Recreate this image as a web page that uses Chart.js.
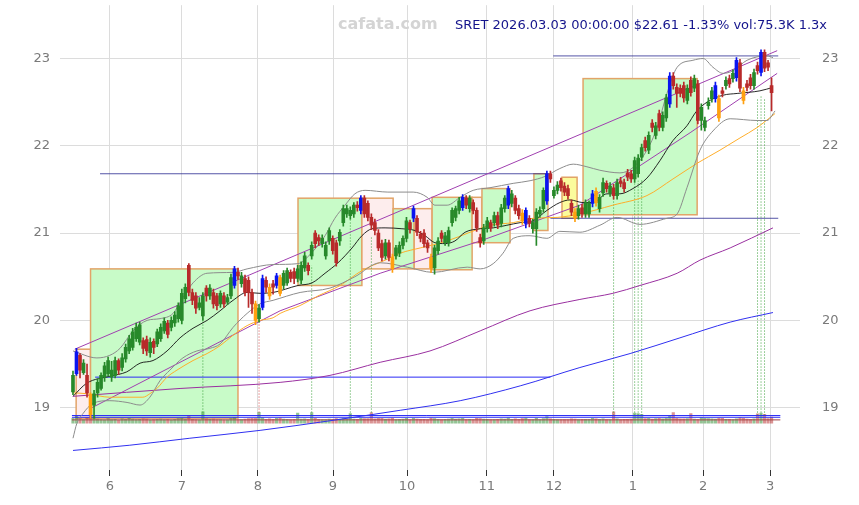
<!DOCTYPE html>
<html>
<head>
<meta charset="utf-8">
<script src="https://cdn.jsdelivr.net/npm/chart.js@4.4.1/dist/chart.umd.min.js"></script>
<style>
html, body { margin: 0; padding: 0; background: #fff; }
</style>
</head>
<body>
<canvas id="c" width="859" height="505"></canvas>
<script>
// daily candles, index 0 = first session shown
const open = [
19.18,19.39,19.60,19.40,19.37,19.15,19.03,19.17,19.22,19.35, 19.39,19.35,19.37,19.54,19.46,19.56,19.65,19.69,19.79,19.75,
19.77,19.78,19.63,19.76,19.73,19.79,19.88,19.97,19.92,19.97, 20.02,20.00,20.25,20.63,20.32,20.28,20.15,20.05,20.37,20.28,
20.32,20.28,20.19,20.28,20.21,20.28,20.40,20.55,20.42,20.48, 20.46,20.32,20.19,20.02,20.15,20.46,20.38,20.42,20.40,20.49,
20.40,20.43,20.55,20.56,20.48,20.46,20.60,20.63,20.74,21.00, 20.95,20.88,20.74,20.91,20.94,20.89,20.91,21.12,21.22,21.20,
21.22,21.32,21.26,21.40,21.34,21.18,21.12,21.00,20.88,20.74, 20.89,20.72,20.74,20.77,20.86,20.94,21.12,21.17,21.17,20.99,
21.00,20.89,20.72,20.60,20.80,21.00,20.89,20.89,21.12,21.18, 21.26,21.29,21.40,21.28,21.35,21.26,20.95,20.91,21.05,21.12,
21.12,21.20,21.11,21.28,21.32,21.34,21.40,21.28,21.23,21.11, 21.17,21.05,21.05,21.22,21.28,21.37,21.68,21.43,21.49,21.60,
21.54,21.51,21.34,21.24,21.20,21.29,21.22,21.22,21.34,21.48, 21.28,21.46,21.57,21.46,21.52,21.43,21.60,21.58,21.69,21.68,
21.62,21.68,21.87,22.06,21.95,22.26,22.12,22.37,22.21,22.32, 22.48,22.80,22.67,22.66,22.69,22.52,22.75,22.66,22.71,22.29,
22.21,22.46,22.54,22.54,22.54,22.63,22.69,22.77,22.77,22.78, 22.95,22.63,22.71,22.78,22.69,22.92,22.84,23.07,22.95,22.69
];
const high = [
19.42,19.68,19.62,19.55,19.50,19.17,19.20,19.33,19.40,19.52, 19.58,19.53,19.58,19.56,19.62,19.73,19.83,19.91,19.97,19.98,
19.80,19.82,19.80,19.79,19.90,19.96,20.03,20.00,20.04,20.10, 20.20,20.36,20.42,20.65,20.36,20.32,20.26,20.32,20.40,20.41,
20.36,20.31,20.34,20.32,20.30,20.53,20.62,20.60,20.55,20.52, 20.50,20.36,20.22,20.18,20.52,20.50,20.42,20.46,20.54,20.52,
20.57,20.60,20.58,20.60,20.63,20.67,20.78,20.66,20.90,21.03, 20.98,20.98,20.90,21.06,20.97,20.92,21.04,21.32,21.32,21.30,
21.35,21.36,21.43,21.43,21.37,21.22,21.16,21.04,20.92,20.93, 20.92,20.76,20.86,20.90,20.97,21.18,21.15,21.31,21.20,21.02,
21.04,20.92,20.76,20.86,20.95,21.03,21.01,21.07,21.29,21.31, 21.41,21.44,21.43,21.43,21.38,21.29,20.99,21.10,21.18,21.15,
21.24,21.24,21.33,21.43,21.54,21.49,21.43,21.32,21.27,21.29, 21.20,21.16,21.28,21.30,21.52,21.71,21.71,21.53,21.59,21.63,
21.58,21.55,21.38,21.28,21.32,21.33,21.38,21.37,21.49,21.52, 21.44,21.63,21.60,21.58,21.56,21.62,21.64,21.62,21.73,21.72,
21.87,21.90,22.02,22.10,22.16,22.30,22.27,22.41,22.39,22.59, 22.84,22.84,22.71,22.70,22.73,22.70,22.79,22.81,22.75,22.48,
22.33,22.55,22.67,22.73,22.58,22.67,22.79,22.81,22.87,23.01, 22.99,22.67,22.75,22.82,22.88,22.96,23.10,23.10,22.98,22.78
];
const low = [
19.15,19.37,19.34,19.38,19.12,18.88,18.88,19.12,19.20,19.30, 19.36,19.30,19.34,19.38,19.42,19.52,19.62,19.66,19.76,19.72,
19.62,19.60,19.58,19.62,19.70,19.76,19.85,19.80,19.88,19.93, 19.98,19.96,20.20,20.28,20.18,20.08,20.12,20.00,20.22,20.24,
20.14,20.12,20.15,20.15,20.18,20.25,20.37,20.47,20.38,20.28, 20.15,20.08,19.95,19.98,20.12,20.32,20.24,20.30,20.37,20.28,
20.36,20.40,20.44,20.42,20.44,20.42,20.56,20.52,20.70,20.83, 20.86,20.84,20.70,20.87,20.76,20.62,20.86,21.08,21.18,21.16,
21.18,21.25,21.22,21.18,21.14,21.04,20.98,20.80,20.68,20.70, 20.68,20.55,20.70,20.73,20.82,20.90,21.00,21.13,20.97,20.90,
20.84,20.78,20.55,20.53,20.76,20.90,20.86,20.85,21.08,21.14, 21.22,21.26,21.28,21.24,21.22,21.02,20.84,20.87,21.01,21.02,
21.08,21.05,21.07,21.24,21.28,21.30,21.22,21.16,21.10,21.06, 21.07,21.00,20.86,21.18,21.24,21.33,21.58,21.40,21.45,21.48,
21.43,21.39,21.20,21.13,21.16,21.18,21.18,21.18,21.30,21.31, 21.24,21.42,21.47,21.42,21.39,21.39,21.53,21.47,21.60,21.58,
21.58,21.64,21.83,21.94,21.91,22.16,22.08,22.17,22.17,22.28, 22.44,22.65,22.44,22.56,22.50,22.48,22.57,22.62,22.25,22.18,
22.17,22.42,22.50,22.50,22.28,22.56,22.65,22.67,22.73,22.74, 22.62,22.48,22.63,22.65,22.65,22.82,22.80,22.85,22.86,22.40
];
const close = [
19.37,19.64,19.43,19.51,19.17,18.92,19.16,19.29,19.37,19.48, 19.54,19.43,19.54,19.43,19.57,19.69,19.79,19.87,19.92,19.95,
19.68,19.65,19.75,19.69,19.87,19.92,19.99,19.84,20.00,20.06, 20.17,20.31,20.38,20.32,20.23,20.14,20.20,20.28,20.28,20.37,
20.19,20.17,20.31,20.19,20.26,20.49,20.59,20.51,20.51,20.32, 20.32,20.19,20.00,20.14,20.48,20.38,20.28,20.38,20.51,20.31,
20.54,20.57,20.48,20.48,20.59,20.63,20.74,20.57,20.86,20.88, 20.91,20.94,20.86,21.03,20.80,20.66,21.01,21.28,21.28,21.26,
21.32,21.29,21.40,21.22,21.18,21.09,21.03,20.83,20.72,20.89, 20.72,20.59,20.83,20.86,20.94,21.14,21.05,21.28,21.01,20.94,
20.88,20.83,20.60,20.83,20.91,20.94,20.97,21.03,21.26,21.28, 21.37,21.41,21.32,21.40,21.26,21.06,20.89,21.06,21.14,21.06,
21.20,21.09,21.29,21.40,21.51,21.45,21.26,21.20,21.14,21.26, 21.11,21.12,21.24,21.26,21.49,21.68,21.62,21.49,21.55,21.52,
21.47,21.43,21.24,21.17,21.28,21.22,21.35,21.34,21.45,21.35, 21.41,21.58,21.51,21.54,21.43,21.58,21.57,21.51,21.64,21.62,
21.83,21.86,21.98,21.98,22.12,22.21,22.23,22.21,22.35,22.55, 22.80,22.69,22.60,22.60,22.55,22.66,22.61,22.77,22.29,22.44,
22.29,22.50,22.63,22.69,22.32,22.60,22.75,22.71,22.83,22.98, 22.66,22.52,22.67,22.69,22.84,22.86,23.07,22.89,22.90,22.61
];
// volume in thousands
const volume = [
60,85,55,45,70,95,80,50,45,40, 55,42,48,38,52,46,58,50,44,47,
52,49,41,43,47,51,45,48,40,46, 55,62,50,90,48,44,40,140,52,47,
49,45,43,41,40,56,68,44,42,50, 55,58,60,135,70,48,52,46,60,65,
50,47,44,46,125,49,52,46,130,60, 48,45,43,50,47,55,49,58,52,120,
50,48,62,55,57,130,52,60,58,50, 52,62,45,47,49,58,44,60,50,46,
48,45,62,55,47,44,46,49,58,50, 52,60,45,47,44,58,55,50,46,43,
45,47,53,50,64,48,52,46,55,62, 44,43,60,45,57,80,52,46,44,45,
43,44,52,50,45,46,48,47,58,54, 46,52,44,45,140,52,45,48,46,50,
125,120,110,56,58,50,55,60,52,62, 90,130,58,54,52,56,120,50,48,70,
60,55,52,50,62,58,48,46,45,52, 70,58,49,47,52,115,125,110,55,75
];
// signal candles
const blueIdx = [1,46,54,58,82,97,111,124,129,135,148,170,183,189,196];
const orangeIdx = [5,52,56,59,91,102,128,143,149,184,191];

// month ticks (position in session index) and labels
const monthPos = [10.54, 31.05, 52.7, 74.07, 95.16, 117.9, 137.0, 159.5, 179.5, 198.6];
const monthLabels = ['6','7','8','9','10','11','12','1','2','3'];
const priceTicks = [19, 20, 21, 22, 23];

// overlay lines as [index, price]
const maFast = [[0,19.13],[3.9,19.28],[10.5,19.36],[15.3,19.41],[19.1,19.51],[22.8,19.54],[26.8,19.65],[30.5,19.80],
 [34.2,19.91],[38.2,20.00],[41.9,20.11],[45.6,20.23],[49.6,20.32],[53.3,20.31],[57,20.32],[64.1,20.40],[68.1,20.43],
 [71.8,20.54],[75.5,20.66],[79.5,20.83],[82.3,20.97],[85.2,21.05],[88.9,21.06],[93.7,21.05],[97.4,21.03],[100.3,20.97],
 [103.1,20.89],[106,20.88],[108.8,20.91],[111.7,21.01],[116,21.05],[119.7,21.06],[123.6,21.09],[127.4,21.12],[131,21.14],
 [135,21.26],[138.7,21.35],[141.6,21.38],[145.3,21.35],[148.1,21.35],[152.1,21.45],[155.8,21.45],[159.5,21.51],
 [163.5,21.63],[167.2,21.83],[170.9,22.06],[174.9,22.23],[177.5,22.39],[180.6,22.50],[185.2,22.58],[189.2,22.60],
 [195.7,22.63],[199.4,22.67]];
const bandUpper = [[0,19.65],[6.8,19.57],[10.5,19.60],[13.4,19.68],[17.1,19.88],[21.1,20.00],[24.8,20.02],[28.5,20.08],
 [31.3,20.26],[34.2,20.43],[38.2,20.54],[45.6,20.55],[49.6,20.59],[57,20.64],[64.1,20.65],[68.1,20.78],[71.8,20.97],
 [74.6,21.17],[77.5,21.32],[80.3,21.45],[83.2,21.49],[89.7,21.47],[96.9,21.47],[100.9,21.41],[103.1,21.32],[106.6,21.32],
 [110.3,21.41],[114,21.49],[118.8,21.52],[125.4,21.57],[130.2,21.60],[134.5,21.65],[138.7,21.74],[142.5,21.79],
 [146.4,21.76],[150.1,21.72],[155.8,21.69],[159.5,21.75],[163.5,21.95],[166.4,22.21],[169.2,22.60],[172.1,22.90],
 [176.6,22.98],[179.5,23.00],[182.3,22.90],[185.2,22.83],[188,22.86],[192,22.98],[197.7,23.03],[199.4,23.01]];
const bandLower = [[0,18.65],[1.1,18.82],[2.8,18.93],[5.7,19.05],[10.5,19.08],[15.4,19.06],[19.1,19.03],[21.9,19.12],
 [24.8,19.31],[27.6,19.43],[31.3,19.57],[35.3,19.65],[39,19.68],[41.9,19.73],[45.6,19.92],[49.6,20.08],[53.3,20.19],
 [57,20.23],[64.7,20.32],[73.2,20.37],[80.3,20.50],[87.5,20.66],[95.2,20.61],[102.6,20.55],[112.3,20.61],[116,20.59],
 [119.7,20.65],[122.5,20.77],[125.4,20.94],[130.2,20.97],[135,20.94],[138.7,21.02],[144.4,21.01],[150.1,21.09],
 [155,21.18],[161.5,21.10],[169.2,21.17],[172.1,21.22],[174.9,21.52],[178.6,21.95],[182.3,22.17],[187.2,22.31],
 [194.9,22.29],[197.7,22.29],[200,22.40]];
const maMid = [[0,19.17],[4,19.16],[10.5,19.12],[15.4,19.12],[19.9,19.12],[21.9,19.16],[23.9,19.22],[26.8,19.35],
 [29.6,19.43],[34.2,19.54],[38.2,19.62],[41.9,19.71],[45.6,19.83],[49.6,19.94],[53.3,20.00],[57,20.03],[59,20.08],
 [64.7,20.17],[69.8,20.28],[76.1,20.40],[82.3,20.57],[88.9,20.69],[93.2,20.77],[98.9,20.83],[106.6,20.91],[113.1,21.01],
 [118.8,21.09],[125.4,21.12],[131.1,21.17],[137.9,21.18],[144.4,21.22],[153.8,21.32],[163.5,21.43],[170.9,21.62],
 [177.8,21.80],[184.3,21.95],[190,22.09],[194.9,22.21],[200,22.37]];
const maSlow = [[0,19.13],[30.5,19.22],[59,19.29],[73.2,19.37],[87.5,19.52],[101.7,19.65],[116,19.88],[130.2,20.11],
 [144.4,20.24],[153.8,20.31],[161.5,20.40],[172.1,20.54],[178.6,20.69],[187.2,20.83],[199.4,21.06]];
const maLong = [[0,18.51],[16.2,18.57],[33.3,18.65],[53.3,18.74],[73.2,18.85],[93.2,18.97],[110.3,19.08],[127.4,19.25],
 [144.4,19.46],[158.7,19.62],[172.9,19.80],[187.2,19.98],[199.4,20.09]];
const chanUpper = [[0.5,19.67],[200.6,23.09]];
const chanLower = [[5.4,19.00],[59,20.11],[87.5,20.54],[116,20.91],[144.4,21.32],[175.8,22.15],[200.6,22.83]];

// horizontal levels [from, to, price]
const levelsNavy = [[7.7,136,21.68],[136.8,200.9,23.03],[136,200.9,21.17]];
const levelsBlue = [[6.3,136,19.35],[-0.3,201.5,18.91],[-0.3,201.5,18.89]];
const levelsBrown = [[-0.3,201.5,18.86]];

// volume spike markers [index, top price]
const spikeUp = [[37,20.11],[68,20.63],[79,21.20],[85,20.97],[154,21.40],[160,21.58],[161,21.60],[162,21.62],[195,22.55],[196,22.57],[197,22.55]];
const spikeDown = [[53,20.02]];
const spikeBase = 18.91;

// zones [from, to, low, high, kind]
const zones = [
  [0.9, 5.0, 18.88, 19.67, 'dn'],
  [5.0, 47.0, 18.88, 20.59, 'up'],
  [64.1, 82.3, 20.40, 21.40, 'up'],
  [82.3, 91.2, 20.59, 21.40, 'dn'],
  [91.2, 97.2, 20.59, 21.28, 'up'],
  [97.2, 102.3, 20.59, 21.28, 'dn'],
  [102.3, 113.7, 20.58, 21.41, 'up'],
  [113.7, 116.5, 20.89, 21.41, 'dn'],
  [116.5, 124.5, 20.89, 21.51, 'up'],
  [131.3, 135.3, 21.03, 21.68, 'up'],
  [139.3, 143.6, 21.17, 21.64, 'hold'],
  [145.3, 177.8, 21.21, 22.77, 'up']
];

const headerSite = 'cafata.com';
const headerInfo = 'SRET 2026.03.03 00:00:00 $22.61 -1.33% vol:75.3K 1.3x';

const GREEN = '#27892a';
const RED = '#b82a2a';
const zoneFill = { up: '#c8fbc8', dn: '#fdeded', hold: '#fbfb9c' };

function candleColor(i) {
  if (blueIdx.includes(i)) return '#0a14f0';
  if (orangeIdx.includes(i)) return '#ffa010';
  return close[i] >= open[i] ? GREEN : RED;
}
const idx = open.map((_, i) => i);
const colors = idx.map(candleColor);
const volColors = idx.map(i => close[i] >= open[i] ? 'rgba(39,137,42,0.5)' : 'rgba(184,42,42,0.5)');

function pts(arr) { return arr.map(p => ({ x: p[0], y: p[1] })); }
function segs(arr) {
  const out = [];
  arr.forEach(s => { out.push({ x: s[0], y: s[2] }, { x: s[1], y: s[2] }, { x: s[1], y: null }); });
  return out;
}
function spikes(arr) {
  const out = [];
  arr.forEach(s => { out.push({ x: s[0], y: spikeBase }, { x: s[0], y: s[1] }, { x: s[0], y: null }); });
  return out;
}
function line(data, color, width, extra) {
  return Object.assign({
    type: 'line', data: data, borderColor: color, borderWidth: width,
    pointRadius: 0, fill: false, cubicInterpolationMode: 'monotone', spanGaps: false, order: 1
  }, extra || {});
}

const zonePlugin = {
  id: 'zones',
  beforeDatasetsDraw(chart) {
    const { ctx, chartArea, scales } = chart;
    ctx.save();
    ctx.beginPath();
    ctx.rect(chartArea.left, chartArea.top, chartArea.width, chartArea.height);
    ctx.clip();
    zones.forEach(z => {
      const x0 = scales.x.getPixelForValue(z[0]);
      const x1 = scales.x.getPixelForValue(z[1]);
      const y0 = scales.y.getPixelForValue(z[3]);
      const y1 = scales.y.getPixelForValue(z[2]);
      ctx.fillStyle = zoneFill[z[4]];
      ctx.fillRect(x0, y0, x1 - x0, y1 - y0);
      ctx.strokeStyle = '#e2a468';
      ctx.lineWidth = 1.5;
      ctx.strokeRect(x0, y0, x1 - x0, y1 - y0);
    });
    ctx.restore();
  }
};

const headerPlugin = {
  id: 'header',
  afterDraw(chart) {
    const ctx = chart.ctx;
    ctx.save();
    ctx.textBaseline = 'middle';
    ctx.textAlign = 'left';
    ctx.font = 'bold 16px "DejaVu Sans"';
    ctx.fillStyle = '#d4d4d4';
    ctx.fillText(headerSite, 338, 25);
    ctx.font = '13px "DejaVu Sans"';
    ctx.fillStyle = '#14148c';
    ctx.fillText(headerInfo, 455, 26);
    ctx.restore();
  }
};

const tickFont = { family: 'DejaVu Sans', size: 13 };
const yTickFont = { family: 'DejaVu Sans', size: 13, lineHeight: 0.8 };

new Chart(document.getElementById('c'), {
  type: 'bar',
  data: {
    datasets: [
      {
        label: 'body', data: idx.map(i => ({ x: i, y: [open[i], close[i]] })),
        backgroundColor: colors, barThickness: 3, minBarLength: 1, grouped: false, order: 0
      },
      {
        label: 'wick', data: idx.map(i => ({ x: i, y: [low[i], high[i]] })),
        backgroundColor: colors, barThickness: 1, grouped: false, order: 0
      },
      {
        label: 'vol', data: idx.map(i => ({ x: i, y: volume[i] })), yAxisID: 'yv',
        backgroundColor: volColors, barThickness: 2.5, grouped: false, order: 3
      },
      line(pts(maFast), '#111', 0.9),
      line(pts(bandUpper), '#8c8c8c', 1),
      line(pts(bandLower), '#8c8c8c', 1),
      line(pts(maMid), '#ffae2a', 1),
      line(pts(maSlow), '#9a30a0', 1),
      line(pts(maLong), '#3030f0', 1),
      line(pts(chanUpper), '#a040b0', 1, { cubicInterpolationMode: 'default', tension: 0 }),
      line(pts(chanLower), '#a040b0', 1, { cubicInterpolationMode: 'default', tension: 0 }),
      line(segs(levelsNavy), '#2a2a90', 0.8, { cubicInterpolationMode: 'default', tension: 0 }),
      line(segs(levelsBlue), '#2a2af5', 1, { cubicInterpolationMode: 'default', tension: 0 }),
      line(segs(levelsBrown), '#a04040', 1, { cubicInterpolationMode: 'default', tension: 0 }),
      line(spikes(spikeUp), '#3aa03a', 1, { cubicInterpolationMode: 'default', tension: 0, borderDash: [1, 2], order: 2 }),
      line(spikes(spikeDown), '#d04040', 1, { cubicInterpolationMode: 'default', tension: 0, borderDash: [1, 2], order: 2 })
    ]
  },
  options: {
    responsive: false,
    animation: false,
    devicePixelRatio: 1,
    layout: { padding: { top: 5, left: 0, right: 0, bottom: 0 } },
    plugins: { legend: { display: false }, tooltip: { enabled: false }, title: { display: false } },
    scales: {
      x: {
        type: 'linear', min: -3.7, max: 207.1, offset: false,
        afterBuildTicks: s => { s.ticks = monthPos.map(v => ({ value: v })); },
        afterFit: s => { s.height = 35; },
        ticks: { color: '#7a7a7a', font: tickFont, padding: 3, autoSkip: false, maxRotation: 0,
          callback: (v, i) => monthLabels[i] },
        grid: { color: '#dcdcdc', tickColor: '#333', tickLength: 6, offset: false },
        border: { display: false }
      },
      y: {
        position: 'left', min: 18.286, max: 23.611,
        afterBuildTicks: s => { s.ticks = priceTicks.map(v => ({ value: v })); },
        afterFit: s => { s.width = 60; },
        ticks: { color: '#7a7a7a', font: yTickFont, padding: 0 },
        grid: { color: '#dcdcdc', drawTicks: true, tickLength: 10, tickColor: 'rgba(0,0,0,0)' },
        border: { display: false }
      },
      y2: {
        position: 'right', min: 18.286, max: 23.611,
        afterBuildTicks: s => { s.ticks = priceTicks.map(v => ({ value: v })); },
        afterFit: s => { s.width = 59; },
        ticks: { color: '#7a7a7a', font: yTickFont, padding: 0 },
        grid: { display: false, drawTicks: true, tickLength: 22 },
        border: { display: false }
      },
      yv: { display: false, min: -587, max: 5225 }
    }
  },
  plugins: [zonePlugin, headerPlugin]
});
</script>
</body>
</html>
